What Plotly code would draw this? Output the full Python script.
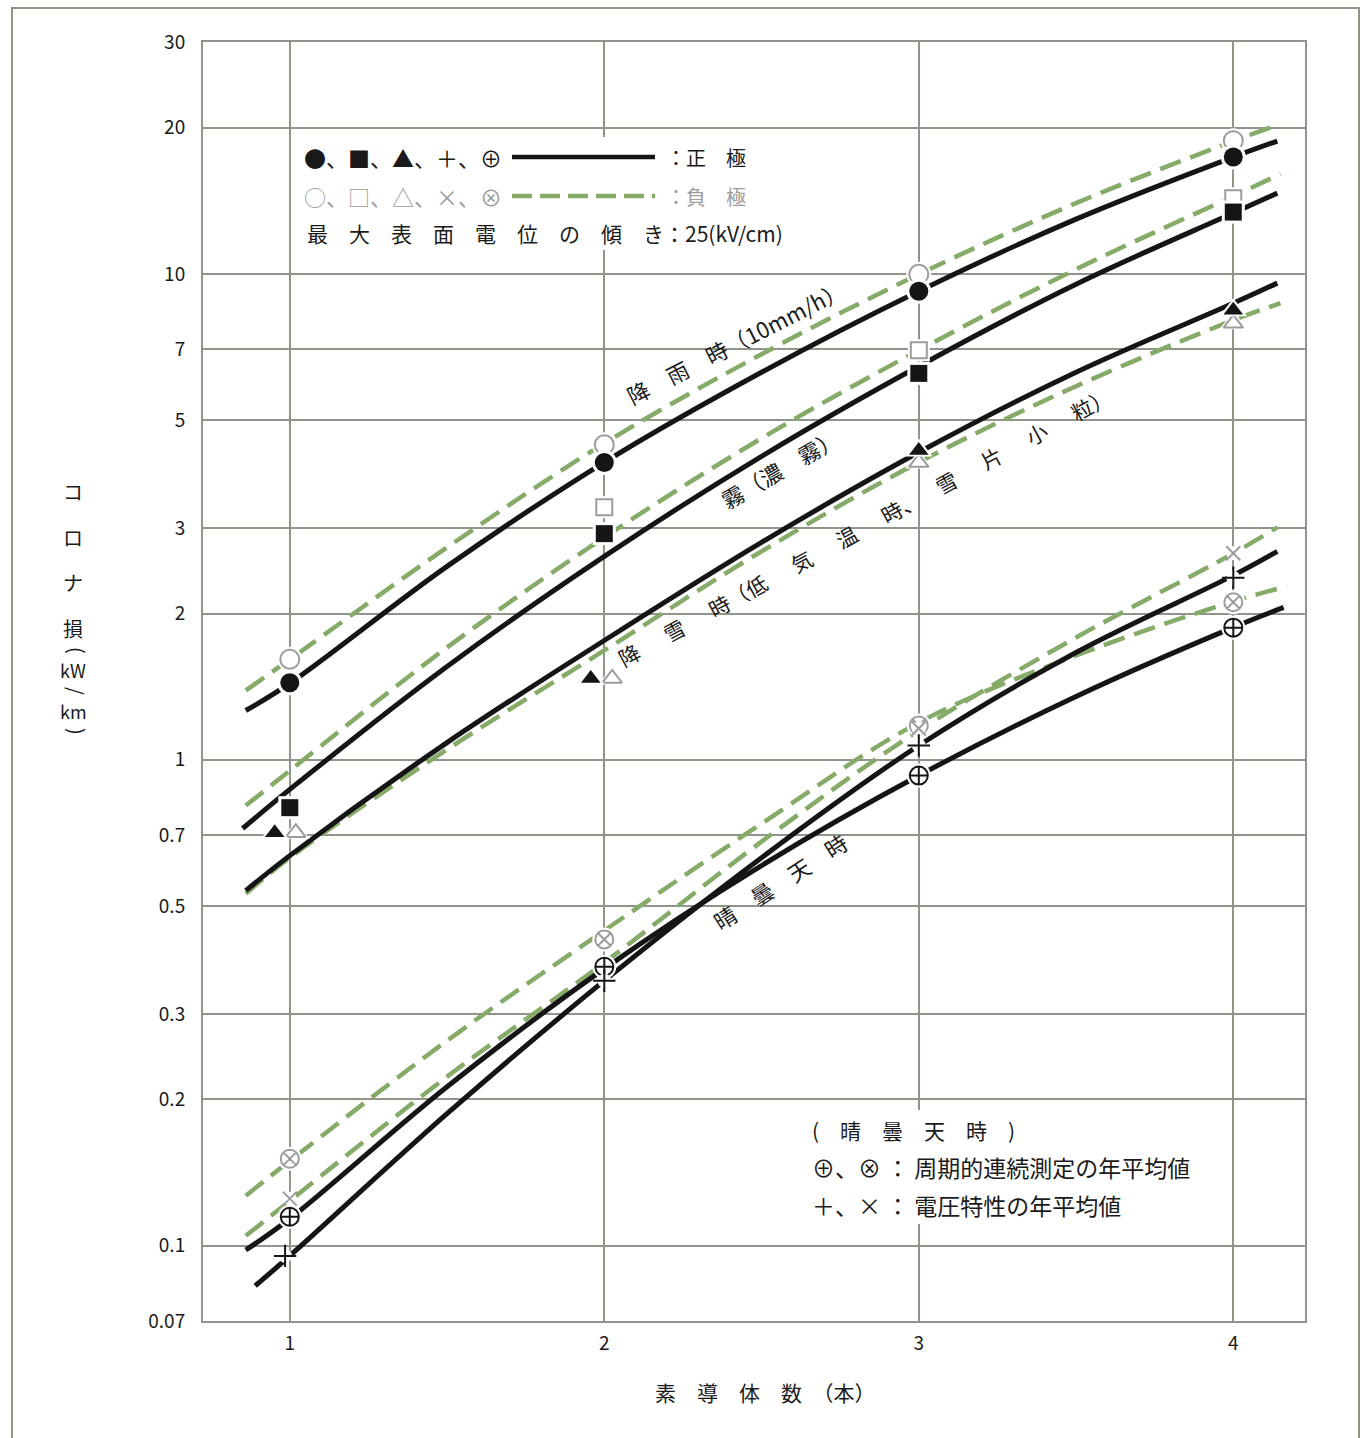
import plotly.graph_objects as go

# ---------------- data ----------------
# fitted curves: positive pole (solid black) and negative pole (green dashed)
rain_pos_x = [0.86, 1, 1.5, 2, 2.5, 3, 3.5, 4, 4.14]
rain_pos_y = [1.263, 1.436, 2.50, 4.095, 6.274, 9.21, 12.96, 17.39, 18.76]
rain_neg_x = [0.86, 1, 1.5, 2, 2.5, 3, 3.5, 4, 4.14]
rain_neg_y = [1.389, 1.609, 2.736, 4.48, 6.833, 9.98, 13.98, 18.76, 20.24]

fog_pos_x = [0.85, 1, 1.5, 2, 2.5, 3, 3.5, 4, 4.14]
fog_pos_y = [0.722, 0.869, 1.556, 2.622, 4.212, 6.454, 9.52, 13.34, 14.66]
fog_neg_x = [0.86, 1, 1.5, 2, 2.5, 3, 3.5, 4, 4.15]
fog_neg_y = [0.805, 0.950, 1.703, 2.869, 4.587, 6.963, 10.22, 14.45, 16.05]

snow_pos_x = [0.86, 1, 1.5, 2, 2.5, 3, 3.5, 4, 4.14]
snow_pos_y = [0.538, 0.635, 1.085, 1.760, 2.802, 4.293, 6.274, 8.70, 9.57]
snow_neg_x = [0.86, 1, 1.5, 2, 2.5, 3, 3.5, 4, 4.15]
snow_neg_y = [0.530, 0.629, 1.050, 1.679, 2.685, 4.095, 5.871, 8.03, 8.70]

fair_cyc_pos_x = [0.86, 1, 1.5, 2, 2.5, 3, 3.5, 4, 4.16]
fair_cyc_pos_y = [0.0980, 0.1136, 0.2124, 0.3717, 0.6058, 0.928, 1.350, 1.873, 2.059]
fair_vc_pos_x = [0.89, 1, 1.5, 2, 2.5, 3, 3.5, 4, 4.14]
fair_vc_pos_y = [0.0827, 0.0953, 0.1869, 0.3511, 0.629, 1.070, 1.663, 2.396, 2.685]
fair_cyc_neg_x = [0.86, 1, 1.5, 2, 2.5, 3, 3.5, 4, 4.17]
fair_cyc_neg_y = [0.1267, 0.1495, 0.2642, 0.4452, 0.7391, 1.193, 1.639, 2.118, 2.274]
fair_vc_neg_x = [0.86, 1, 1.5, 2, 2.5, 3, 3.5, 4, 4.14]
fair_vc_neg_y = [0.1048, 0.1237, 0.2228, 0.3824, 0.6786, 1.149, 1.785, 2.659, 3.008]

# measured annual averages
rain_pos_pt_x = [1, 2, 3, 4]
rain_pos_pt = [1.44, 4.09, 9.21, 17.4]
rain_neg_pt_x = [1, 2, 3, 4]
rain_neg_pt = [1.61, 4.45, 9.98, 18.8]

fog_pos_pt_x = [1, 2, 3, 4]
fog_pos_pt = [0.797, 2.92, 6.24, 13.4]
fog_neg_pt_x = [2, 3, 4]
fog_neg_pt = [3.31, 6.96, 14.3]

snow_pos_pt_x = [0.952, 1.957, 3, 4]
snow_pos_pt = [0.708, 1.47, 4.33, 8.42]
snow_neg_pt_x = [1.019, 2.025, 3, 4]
snow_neg_pt = [0.708, 1.47, 4.09, 7.91]

fair_cyc_pos_pt_x = [1, 2, 3, 4]
fair_cyc_pos_pt = [0.1147, 0.375, 0.928, 1.87]
fair_cyc_neg_pt_x = [1, 2, 3, 4]
fair_cyc_neg_pt = [0.151, 0.427, 1.177, 2.11]
fair_vc_pos_pt_x = [0.985, 2, 3, 4]
fair_vc_pos_pt = [0.0953, 0.351, 1.07, 2.37]
fair_vc_neg_pt_x = [1, 2, 3, 4]
fair_vc_neg_pt = [0.125, 0.375, 1.16, 2.66]

y_ticks = [30, 20, 10, 7, 5, 3, 2, 1, 0.7, 0.5, 0.3, 0.2, 0.1, 0.07]
y_tick_text = ["30", "20", "10", "7", "5", "3", "2", "1", "0.7", "0.5", "0.3", "0.2", "0.1", "0.07"]
x_ticks = [1, 2, 3, 4]

# ---------------- style ----------------
W, H = 1365, 1438
PL, PR, PT, PB = 203, 1305, 42, 1321          # plot area in pixels
FONT = "Noto Sans CJK JP"
BLACK = "#151515"
GREEN = "#86aa68"
GREY = "#9c9c9c"
GRID = "#8f9589"


def px(x, y):
    return (x - PL) / (PR - PL), (PB - y) / (PB - PT)


fig = go.Figure()


def curve(xs, ys, neg):
    fig.add_trace(go.Scatter(
        x=xs, y=ys, mode="lines", line_shape="spline", hoverinfo="skip",
        line=dict(color=GREEN if neg else BLACK, width=4.5 if neg else 5,
                  dash="22px,10px" if neg else "solid"),
        showlegend=False))


for xs, ys, neg in [
    (rain_neg_x, rain_neg_y, True), (rain_pos_x, rain_pos_y, False),
    (fog_neg_x, fog_neg_y, True), (fog_pos_x, fog_pos_y, False),
    (snow_neg_x, snow_neg_y, True), (snow_pos_x, snow_pos_y, False),
    (fair_cyc_neg_x, fair_cyc_neg_y, True), (fair_vc_neg_x, fair_vc_neg_y, True),
    (fair_cyc_pos_x, fair_cyc_pos_y, False), (fair_vc_pos_x, fair_vc_pos_y, False),
]:
    curve(xs, ys, neg)


def points(xs, ys, symbol, color, size, halo_symbol, halo_size, lw=2):
    # white halo that breaks the curves around each marker
    fig.add_trace(go.Scatter(
        x=xs, y=ys, mode="markers", hoverinfo="skip", showlegend=False,
        marker=dict(symbol=halo_symbol, size=halo_size, color="white",
                    line=dict(width=0))))
    fig.add_trace(go.Scatter(
        x=xs, y=ys, mode="markers", hoverinfo="skip", showlegend=False,
        marker=dict(symbol=symbol, size=size, color=color,
                    line=dict(width=lw, color=color))))


points(rain_neg_pt_x, rain_neg_pt, "circle-open", GREY, 19, "circle", 25)
points(rain_pos_pt_x, rain_pos_pt, "circle", BLACK, 19, "circle", 25, 0)
points(fog_neg_pt_x, fog_neg_pt, "square-open", GREY, 16, "square", 22)
points(fog_pos_pt_x, fog_pos_pt, "square", BLACK, 17, "square", 23, 0)
points(snow_neg_pt_x, snow_neg_pt, "triangle-up-open", GREY, 17, "triangle-up", 24)
points(snow_pos_pt_x, snow_pos_pt, "triangle-up", BLACK, 17, "triangle-up", 24, 0)
points(fair_cyc_neg_pt_x, fair_cyc_neg_pt, "circle-x-open", GREY, 18, "circle", 24)
points(fair_vc_neg_pt_x, fair_vc_neg_pt, "x-thin-open", GREY, 14, "circle", 14)
points(fair_cyc_pos_pt_x, fair_cyc_pos_pt, "circle-cross-open", BLACK, 18, "circle", 24)
points(fair_vc_pos_pt_x, fair_vc_pos_pt, "cross-thin-open", BLACK, 16, "circle", 14)

# ---------------- annotations ----------------
ann = []


def text(s, x, y, size=21, color="#1a1a1a", angle=0, xanchor="center"):
    ax, ay = px(x, y)
    ann.append(dict(text=s, x=ax, y=ay, xref="paper", yref="paper", showarrow=False,
                    xanchor=xanchor, yanchor="middle", textangle=angle,
                    font=dict(family=FONT, size=size, color=color)))


# curve labels
text("降　雨　時（10mm/h）", 735, 342, 22, angle=-27)
text("霧（濃　霧）", 780, 468, 22, angle=-30)
text("降　  雪　  時（低　  気　  温　  時、　  雪　  片　  小　  粒）", 864, 527, 21, angle=-28.5)
text("晴　曇　天　時", 780, 881, 22, angle=-33)

# legend (upper left)
text("●、■、▲、＋、⊕", 302, 157, 22, xanchor="left")
text("：正　極", 664, 157, 20, xanchor="left")
text("○、□、△、×、⊗", 302, 196, 22, color=GREY, xanchor="left")
text("：負　極", 664, 196, 20, color=GREY, xanchor="left")
text("最　大　表　面　電　位　の　傾　き：25(kV/cm)", 305, 233, 21, xanchor="left")

# legend (lower right)
text("(　晴　曇　天　時　)", 810, 1130, 21, xanchor="left")
text("⊕、⊗ ： 周期的連続測定の年平均値", 810, 1167, 23, xanchor="left")
text("＋、× ： 電圧特性の年平均値", 810, 1205, 23, xanchor="left")

# axis titles (vertical writing: brackets and slash turned sideways)
for ch, yy in [("コ", 492), ("ロ", 537), ("ナ", 582), ("損", 628)]:
    text(ch, 73, yy, 20)
text("(", 78, 650, 20, angle=90)
text("kW", 73, 670, 18)
text("/", 77, 691, 20, angle=90)
text("km", 73, 711, 18)
text(")", 78, 731, 20, angle=90)
text("素　導　体　数　（本）", 765, 1392, 21)

# ---------------- shapes ----------------
shapes = []


def rect(x0, y0, x1, y1, line_color=None, fill=None, width=1.6, layer="above"):
    a0, b0 = px(x0, y0)
    a1, b1 = px(x1, y1)
    shapes.append(dict(type="rect", xref="paper", yref="paper", x0=a0, y0=b0, x1=a1, y1=b1,
                       line=dict(color=line_color or "rgba(0,0,0,0)", width=width if line_color else 0),
                       fillcolor=fill or "rgba(0,0,0,0)", layer=layer))


def seg(x0, y0, x1, y1, color, width, dash="solid"):
    a0, b0 = px(x0, y0)
    a1, b1 = px(x1, y1)
    shapes.append(dict(type="line", xref="paper", yref="paper", x0=a0, y0=b0, x1=a1, y1=b1,
                       line=dict(color=color, width=width, dash=dash), layer="above"))


# outer frame
rect(12, 8, 1359, 1460, line_color=GRID, width=2, layer="below")
# white boxes behind legends
rect(296, 137, 815, 250, fill="white", layer="above")
rect(800, 1110, 1210, 1224, fill="white", layer="above")
# legend line samples
seg(512, 157, 655, 157, BLACK, 4.5)
seg(512, 196, 655, 196, GREEN, 4.5, "20px,8px")

fig.update_layout(
    width=W, height=H,
    margin=dict(l=PL, r=W - PR, t=PT, b=H - PB, pad=0),
    paper_bgcolor="white", plot_bgcolor="white",
    showlegend=False,
    annotations=ann, shapes=shapes,
    font=dict(family=FONT, color="#1a1a1a"),
    xaxis=dict(range=[0.724, 4.228], tickvals=x_ticks, ticktext=[str(v) for v in x_ticks],
               showgrid=True, gridcolor=GRID, gridwidth=1.6, zeroline=False,
               showline=True, linecolor=GRID, linewidth=2, mirror=True,
               ticks="", ticklabelstandoff=4, tickfont=dict(size=19, color="#1a1a1a")),
    yaxis=dict(type="log", range=[-1.15490196, 1.47712125], tickvals=y_ticks, ticktext=y_tick_text,
               showgrid=True, gridcolor=GRID, gridwidth=1.6, zeroline=False,
               showline=True, linecolor=GRID, linewidth=2, mirror=True,
               ticks="", ticklabelstandoff=12, tickfont=dict(size=19, color="#1a1a1a")),
)

fig.write_html("out.html")
